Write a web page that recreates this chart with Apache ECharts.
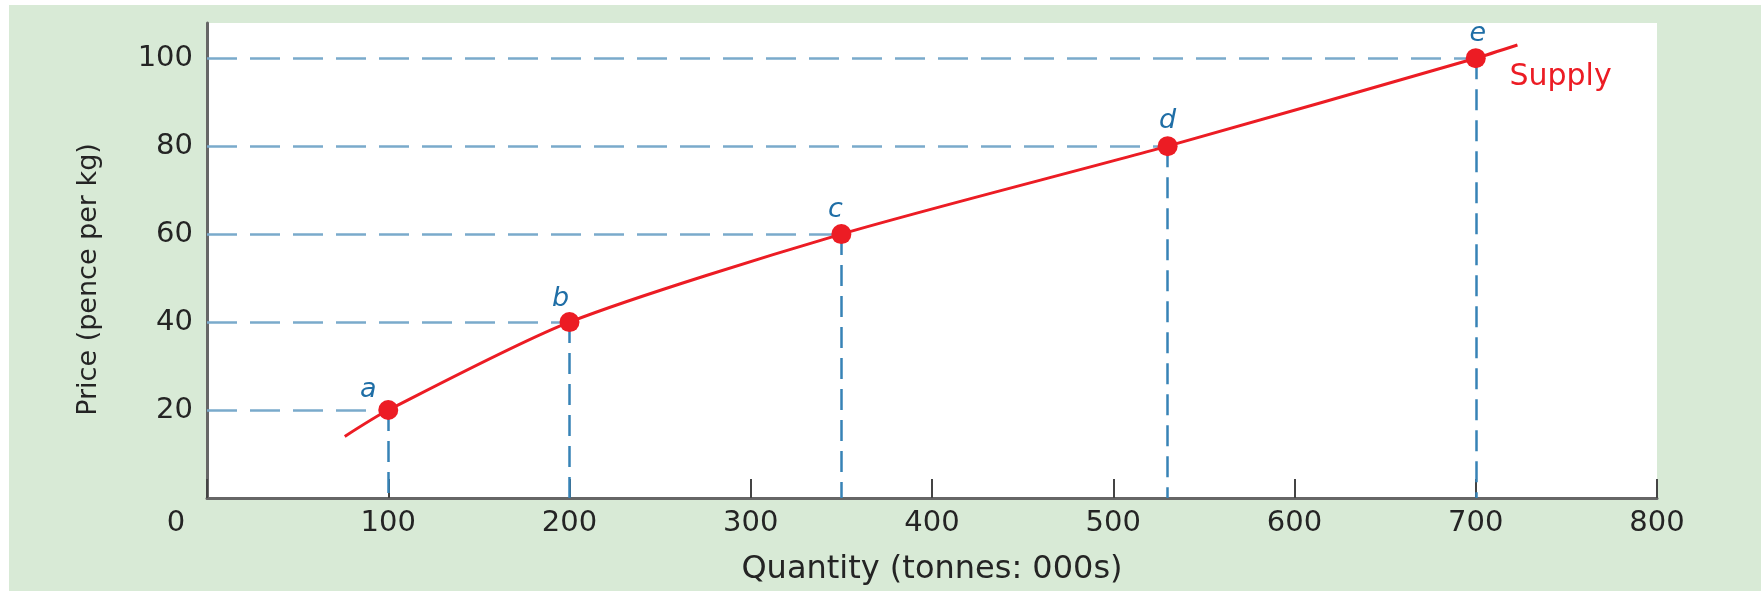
<!DOCTYPE html>
<html>
<head>
<meta charset="utf-8">
<script src="https://cdn.jsdelivr.net/npm/echarts@6/dist/echarts.min.js"></script>
<style>
  html, body { margin: 0; padding: 0; background: #ffffff; }
  #chart { position: absolute; left: 9px; top: 5px; width: 1752px; height: 586px; }
</style>
</head>
<body>
<div id="chart"></div>
<script>
// Supply schedule: price (pence per kg) against quantity (tonnes: 000s)
const pointNames = ['a', 'b', 'c', 'd', 'e'];
const quantities = [100, 200, 350, 530, 700];
const prices = [20, 40, 60, 80, 100];

// Supply curve, extended a little beyond the first and last points
const curveQuantities = [76, 100, 200, 350, 530, 700, 723];
const curvePrices = [14, 20, 40, 60, 80, 100, 103];

const xTicks = [0, 100, 200, 300, 400, 500, 600, 700, 800];
const yTicks = [20, 40, 60, 80, 100];

const RED = '#ec1c24';
const GUIDE_H = '#7aaacb';
const GUIDE_V = '#3783b6';
const LETTER = '#1f6ea6';
const INK = '#242424';
const FONT = 'DejaVu Sans';

// nudges for the point letters so they sit just above each dot
const letterOffsets = [[-20, 6], [-9, 3], [-6, 2], [0, 1], [2, 2]];

const guideLines = [];
quantities.forEach((q, i) => {
  guideLines.push([
    { coord: [0, prices[i]], lineStyle: { color: GUIDE_H, type: [30, 13], width: 2.5 } },
    { coord: [q, prices[i]] }
  ]);
  guideLines.push([
    { coord: [q, prices[i]], lineStyle: { color: GUIDE_V, type: [21, 10], width: 2.5 } },
    { coord: [q, 0] }
  ]);
});

const chart = echarts.init(document.getElementById('chart'), null, { renderer: 'canvas' });
chart.setOption({
  backgroundColor: '#d8ead6',
  animation: false,
  grid: {
    left: 198, right: 104, top: 18, bottom: 91,
    show: true, backgroundColor: '#ffffff', borderWidth: 0
  },
  xAxis: {
    type: 'value',
    min: xTicks[0], max: xTicks[xTicks.length - 1], interval: 100,
    name: 'Quantity (tonnes: 000s)',
    nameLocation: 'middle', nameGap: 56,
    nameTextStyle: { fontFamily: FONT, fontSize: 32, color: INK },
    axisLine: { show: true, lineStyle: { color: '#666666', width: 3 } },
    axisTick: { show: true, inside: true, length: 19, lineStyle: { color: '#444444', width: 2 } },
    splitLine: { show: false },
    axisLabel: {
      margin: 11,
      fontFamily: FONT, fontSize: 29, color: INK,
      formatter: v => (v === 0 ? '{z|0}' : String(v)),
      rich: { z: { fontFamily: FONT, fontSize: 29, color: INK, padding: [0, 62, 0, 0] } }
    }
  },
  yAxis: {
    type: 'value',
    min: 0, max: 108, interval: 20,
    name: 'Price (pence per kg)',
    nameLocation: 'middle', nameGap: 105, nameRotate: 90,
    nameTextStyle: { fontFamily: FONT, fontSize: 27, color: INK, padding: [0, 38, 0, 0] },
    axisLine: { show: true, lineStyle: { color: '#666666', width: 3 } },
    axisTick: { show: false },
    splitLine: { show: false },
    axisLabel: {
      margin: 14, fontFamily: FONT, fontSize: 29, color: INK,
      showMinLabel: false,
      formatter: v => (yTicks.includes(v) ? String(v) : '')
    }
  },
  series: [
    {
      type: 'line',
      name: 'Supply',
      data: curveQuantities.map((q, i) => [q, curvePrices[i]]),
      smooth: 0.25,
      showSymbol: false,
      symbol: 'none',
      lineStyle: { color: RED, width: 3 },
      z: 3,
      markLine: {
        silent: true,
        symbol: ['none', 'none'],
        label: { show: false },
        data: guideLines,
        z: 1
      },
      endLabel: {
        show: true,
        formatter: 'Supply',
        fontFamily: FONT, fontSize: 30, color: RED,
        offset: [-16, 32]
      }
    },
    {
      type: 'scatter',
      data: quantities.map((q, i) => ({
        value: [q, prices[i]],
        name: pointNames[i],
        label: { offset: letterOffsets[i] }
      })),
      symbol: 'circle',
      symbolSize: 20,
      itemStyle: { color: RED, opacity: 1 },
      z: 4,
      label: {
        show: true,
        position: 'top',
        distance: 3,
        formatter: p => p.name,
        fontFamily: FONT, fontSize: 27, fontStyle: 'italic',
        color: LETTER
      }
    }
  ]
});
</script>
</body>
</html>
